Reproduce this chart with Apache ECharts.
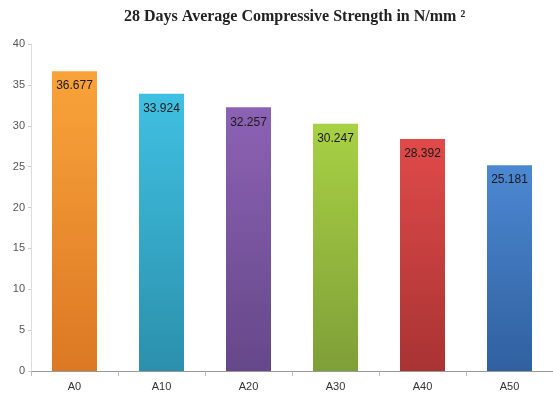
<!DOCTYPE html>
<html><head><meta charset="utf-8">
<script src="https://cdn.jsdelivr.net/npm/echarts@6/dist/echarts.min.js"></script>
<style>html,body{margin:0;padding:0;background:#fff}#c{width:553px;height:399px}</style>
</head><body><div id="c"></div>
<script>
const categories = ['A0','A10','A20','A30','A40','A50'];
const values = [36.677, 33.924, 32.257, 30.247, 28.392, 25.181];
const yTicks = [0,5,10,15,20,25,30,35,40];
const topColors = ['#f9a33a','#40c0e2','#8c62b4','#a8d144','#e04a4a','#4c88d2'];
const bottomColors = ['#dc7824','#2b90ac','#654889','#7f9f38','#a93333','#30609f'];

const chart = echarts.init(document.getElementById('c'));
chart.setOption({
  animation: false,
  title: {
    text: '28 Days Average Compressive Strength in N/mm \u00b2',
    left: 119, top: 4,
    textStyle: {fontFamily: 'Liberation Serif', fontWeight: 'bold', fontSize: 16, color: '#222'}
  },
  grid: {left: 31, right: 0, top: 44, bottom: 28},
  xAxis: {
    type: 'category', data: categories,
    axisLine: {lineStyle: {color: '#999'}},
    axisTick: {show: true, lineStyle: {color: '#bbb'}},
    axisLabel: {color: '#333', fontSize: 11, fontFamily: 'Liberation Sans Narrow, Liberation Sans', margin: 10}
  },
  yAxis: {
    type: 'value', min: 0, max: 40, interval: 5,
    axisLine: {show: true, lineStyle: {color: '#ddd'}},
    axisTick: {show: true, length: 3, lineStyle: {color: '#ccc'}},
    splitLine: {show: false},
    axisLabel: {color: '#555', fontSize: 11, fontFamily: 'Liberation Sans Narrow, Liberation Sans', margin: 6,
      formatter: v => yTicks.includes(v) ? String(v) : ''}
  },
  series: [{
    type: 'bar', barWidth: 45,
    data: values.map((v, i) => ({
      value: v,
      itemStyle: {
        color: new echarts.graphic.LinearGradient(0, 0, 0, 1, [
          {offset: 0, color: topColors[i]}, {offset: 1, color: bottomColors[i]}
        ])
      }
    })),
    label: {
      show: true, position: 'insideTop', distance: 9,
      color: '#1a1a1a', fontSize: 12, fontFamily: 'Liberation Sans Narrow, Liberation Sans',
      formatter: p => p.value.toFixed(3)
    }
  }]
});
</script></body></html>
